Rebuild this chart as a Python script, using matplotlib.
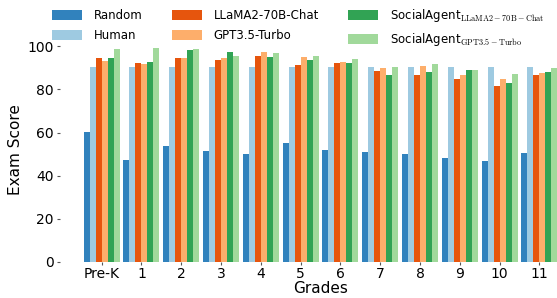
import matplotlib
matplotlib.use("Agg")
import matplotlib.pyplot as plt
import numpy as np

plt.rcParams['mathtext.fontset'] = 'cm'

grades = ['Pre-K', '1', '2', '3', '4', '5', '6', '7', '8', '9', '10', '11']

random_scores = [60.3, 47.3, 53.8, 51.5, 50.0, 55.2, 52.0, 51.0, 50.0, 48.2, 46.8, 50.6]
human_scores = [90.3] * 12
llama_scores = [94.7, 92.4, 94.7, 93.8, 95.7, 91.5, 92.4, 88.7, 86.8, 85.0, 81.7, 86.8]
gpt_scores = [93.3, 92.0, 94.7, 94.7, 97.5, 95.2, 92.9, 90.1, 91.0, 86.8, 85.0, 87.8]
sa_llama_scores = [94.7, 92.9, 98.5, 97.5, 95.2, 93.8, 92.4, 86.8, 88.2, 89.2, 83.1, 88.2]
sa_gpt_scores = [98.9, 99.4, 98.9, 95.7, 97.0, 95.7, 94.3, 90.5, 92.0, 89.2, 87.3, 90.1]

series = [
    ('Random', random_scores, '#3182bd'),
    ('Human', human_scores, '#9ecae1'),
    ('LLaMA2-70B-Chat', llama_scores, '#e6550d'),
    ('GPT3.5-Turbo', gpt_scores, '#fdae6b'),
    (r'SocialAgent$_{\mathrm{LLaMA2-70B-Chat}}$', sa_llama_scores, '#31a354'),
    (r'SocialAgent$_{\mathrm{GPT3.5-Turbo}}$', sa_gpt_scores, '#a1d99b'),
]

fig = plt.figure(figsize=(5.57, 2.98), dpi=100)
# axes runs past the right edge, like the cropped original
ax = fig.add_axes([60 / 557, 36.3 / 298, 521 / 557, 224.7 / 298])

x = np.arange(len(grades))
width = 0.15
for i, (name, vals, color) in enumerate(series):
    ax.bar(x + (i - 2.5) * width, vals, width, color=color, label=name)

ax.set_xticks(x)
ax.set_xticklabels(grades, fontsize=10)
ax.set_yticks([0, 20, 40, 60, 80, 100])
ax.tick_params(axis='y', labelsize=10, length=2.5, color='#555555', pad=2)
ax.tick_params(axis='x', length=2.5, color='#555555', pad=1)
for s in ax.spines.values():
    s.set_visible(False)
ax.set_xlabel('Grades', fontsize=11, labelpad=0)
ax.set_ylabel('Exam Score', fontsize=11, labelpad=3)

fig.legend(ncol=3, frameon=False, fontsize=8.5, loc='upper left',
           bbox_to_anchor=(41.5 / 557, 1.013), handlelength=2.55,
           handleheight=0.9, handletextpad=1.0,
           columnspacing=2.45, labelspacing=0.65)

fig.savefig('out.png', dpi=100)
